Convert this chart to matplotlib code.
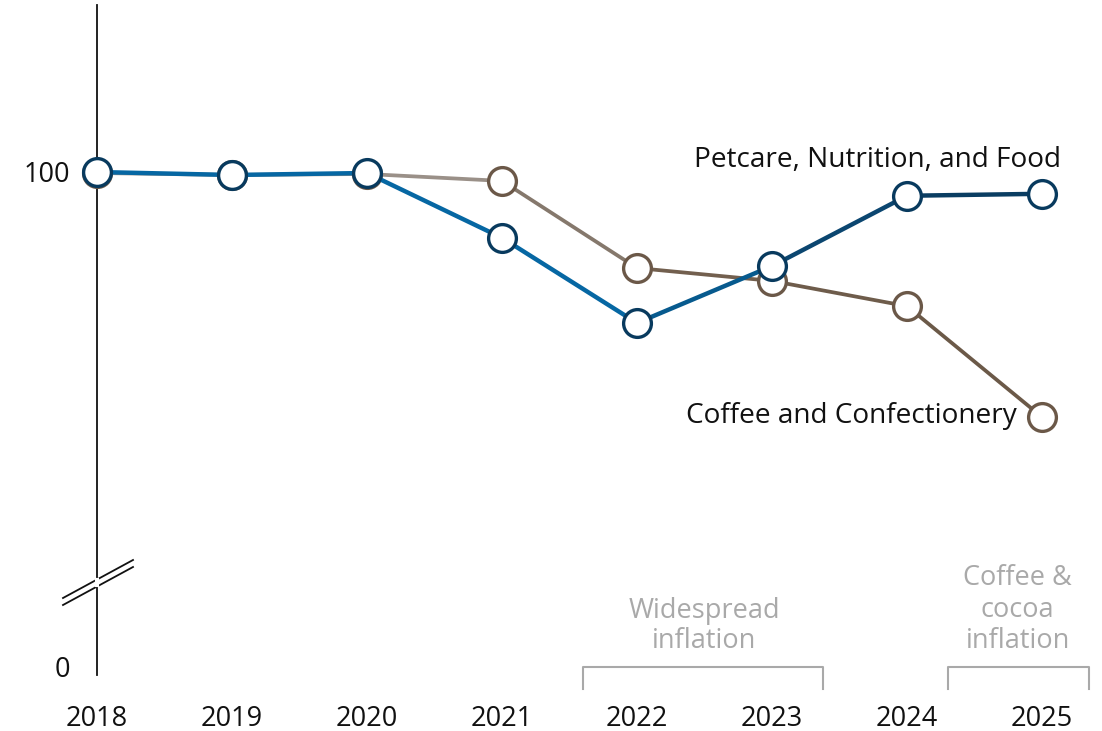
import matplotlib.pyplot as plt
import numpy as np
from matplotlib.lines import Line2D

plt.rcParams['font.family'] = ['Open Sans', 'DejaVu Sans']

years = [2018, 2019, 2020, 2021, 2022, 2023, 2024, 2025]
petcare = [100.2, 99.6, 100.0, 86.9, 69.7, 81.2, 95.4, 95.8]
coffee = [100.0, 99.6, 99.8, 98.4, 80.8, 78.2, 73.1, 50.7]

# one colour per segment, fading from the early to the late shade
petcare_seg_colors = ['#0667a3', '#0667a3', '#0667a3', '#0667a3', '#075a8e', '#0b4670', '#0a3d62']
coffee_seg_colors = ['#9c938b', '#9c938b', '#9a9088', '#85786c', '#725f4e', '#6e5c4b', '#6b5948']
petcare_edge = '#083a5e'
coffee_edge = '#6b5848'

fs = 19.5
ink = '#111111'
grey = '#a9a9a9'

fig = plt.figure(figsize=(11.02, 7.31), dpi=100)
W, H = 1102, 731
ax = fig.add_axes([97 / W, (731 - 675) / H, (1042 - 97) / W, (675 - 5) / H])

px_per_unit = (668 - 173) / 100
ax.set_xlim(2018, 2025)
ax.set_ylim(-(675 - 668) / px_per_unit, (668 - 5) / px_per_unit)

for side in ['top', 'right', 'bottom']:
    ax.spines[side].set_visible(False)
ax.spines['left'].set_linewidth(1.3)
ax.spines['left'].set_color(ink)
ax.set_xticks([])
ax.set_yticks([])


def draw_series(values, seg_colors, edge, lw, z):
    for i in range(len(years) - 1):
        ax.plot(years[i:i + 2], values[i:i + 2], color=seg_colors[i], lw=lw,
                solid_capstyle='round', zorder=z, clip_on=False)
    ax.plot(years, values, ls='none', marker='o', ms=20, mfc='white', mec=edge,
            mew=2.4, zorder=z + 1, clip_on=False)


draw_series(coffee, coffee_seg_colors, coffee_edge, 2.7, 3)
draw_series(petcare, petcare_seg_colors, petcare_edge, 3.2, 5)

# y tick labels
ax.text(2017.8, 98.2, '100', ha='right', va='baseline', fontsize=fs, color=ink, clip_on=False)
ax.text(2017.8, -1.8, '0', ha='right', va='baseline', fontsize=fs, color=ink, clip_on=False)

# year labels
for yr in years:
    ax.text(yr, -11.7, str(yr), ha='center', va='baseline', fontsize=fs,
            color=ink, clip_on=False)

# series labels
ax.text(2025.14, 101.2, 'Petcare, Nutrition, and Food', ha='right', va='baseline',
        fontsize=20.2, color=ink)
ax.text(2024.81, 49.5, 'Coffee and Confectionery', ha='right', va='baseline',
        fontsize=20.2, color=ink)

# period brackets and notes
for x0, x1 in [(2021.6, 2023.378), (2024.3, 2025.35)]:
    ax.plot([x0, x0, x1, x1], [-4.3, 0.2, 0.2, -4.3], color=grey, lw=1.5,
            clip_on=False)

notes = [(2022.5, ['Widespread', 'inflation'], [618, 648]),
         (2024.82, ['Coffee &', 'cocoa', 'inflation'], [585, 617, 648])]
for xc, lines, baselines in notes:
    for line, yb in zip(lines, baselines):
        ax.text(xc, (668 - yb) / px_per_unit, line, ha='center', va='baseline',
                fontsize=fs, color=grey)

# axis break marks
for dy in [0, 7]:
    fig.add_artist(Line2D([63 / W, 133 / W], [1 - (598 + dy) / H, 1 - (560 + dy) / H],
                          color=ink, lw=1.3))
# white gap between the break marks
fig.add_artist(Line2D([97 / W, 97 / W], [1 - 585 / H, 1 - 580 / H], color='white', lw=3))

fig.savefig('out.png', dpi=100)
